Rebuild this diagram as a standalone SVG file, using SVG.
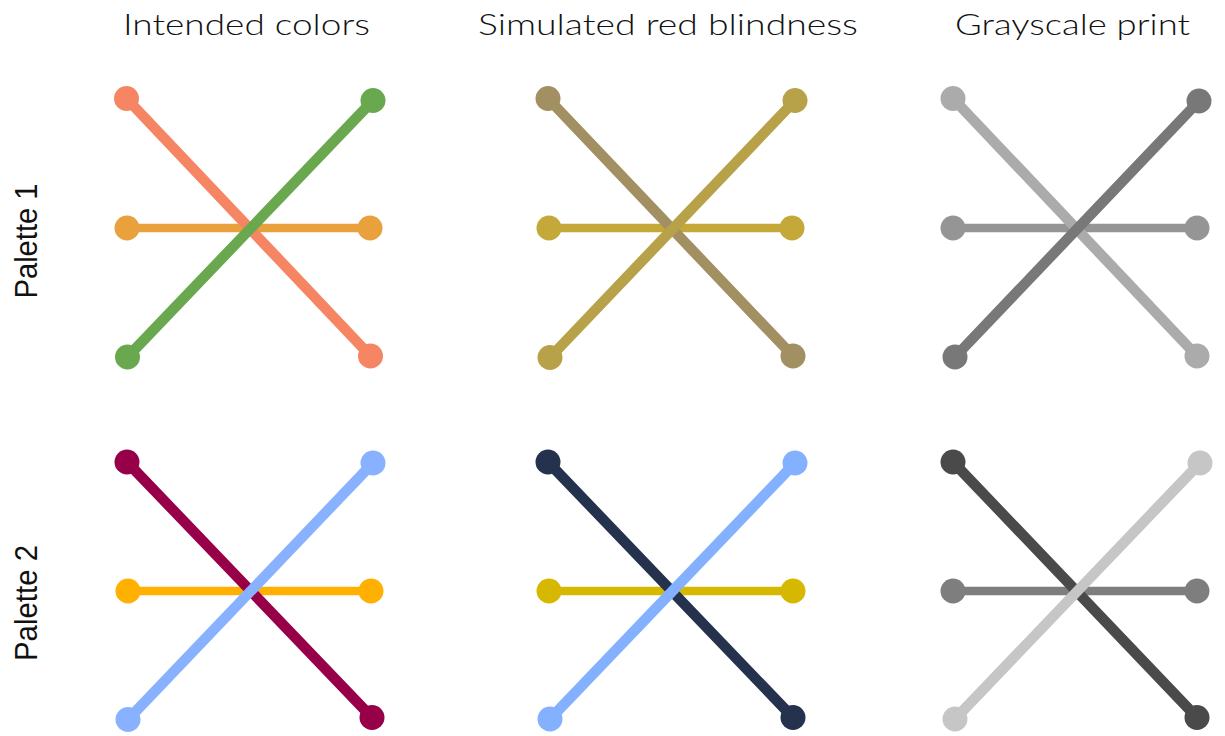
<svg xmlns="http://www.w3.org/2000/svg" width="1225" height="736" viewBox="0 0 1225 736">
<style>
.t{font-family:Lato,"Open Sans","Liberation Sans",sans-serif;font-size:30px;font-weight:300;fill:#111;text-anchor:middle}
.r{font-family:"Liberation Sans",Arial,sans-serif;font-size:32px;fill:#111;text-anchor:middle}
.d{stroke-width:10.5;stroke-linecap:round;fill:none}
.h{stroke-width:8.5;stroke-linecap:round;fill:none}
</style>
<rect width="1225" height="736" fill="#fff"/>
<g id="titles">
<text class="t" x="246.5" y="35" textLength="247" lengthAdjust="spacingAndGlyphs">Intended colors</text>
<text class="t" x="668" y="35" textLength="380" lengthAdjust="spacingAndGlyphs">Simulated red blindness</text>
<text class="t" x="1072.5" y="35" textLength="235" lengthAdjust="spacingAndGlyphs">Grayscale print</text>
<text class="r" transform="translate(37,241) rotate(-90)" textLength="115" lengthAdjust="spacingAndGlyphs">Palette 1</text>
<text class="r" transform="translate(37,603) rotate(-90)" textLength="116" lengthAdjust="spacingAndGlyphs">Palette 2</text>
</g>
<g id="connectors">
<g id="r1p1">
<line class="h" x1="127" y1="228" x2="370" y2="228" stroke="#E8A13C"/>
<circle cx="127" cy="228" r="12.5" fill="#E8A13C"/><circle cx="370" cy="228" r="12.5" fill="#E8A13C"/>
<line class="d" x1="126.5" y1="98.5" x2="370.5" y2="356" stroke="#F68563"/>
<circle cx="126.5" cy="98.5" r="12.5" fill="#F68563"/><circle cx="370.5" cy="356" r="12.5" fill="#F68563"/>
<line class="d" x1="127.5" y1="357" x2="373" y2="100.5" stroke="#6AA84F"/>
<circle cx="127.5" cy="357" r="12.5" fill="#6AA84F"/><circle cx="373" cy="100.5" r="12.5" fill="#6AA84F"/>
</g>
<g id="r1p2">
<line class="h" x1="549" y1="228" x2="792" y2="228" stroke="#C4A83A"/>
<circle cx="549" cy="228" r="12.5" fill="#C4A83A"/><circle cx="792" cy="228" r="12.5" fill="#C4A83A"/>
<line class="d" x1="548" y1="98.5" x2="793" y2="356" stroke="#A39062"/>
<circle cx="548" cy="98.5" r="12.5" fill="#A39062"/><circle cx="793" cy="356" r="12.5" fill="#A39062"/>
<line class="d" x1="550" y1="357.5" x2="795" y2="100.5" stroke="#B8A249"/>
<circle cx="550" cy="357.5" r="12.5" fill="#B8A249"/><circle cx="795" cy="100.5" r="12.5" fill="#B8A249"/>
</g>
<g id="r1p3">
<line class="h" x1="953" y1="228" x2="1197" y2="228" stroke="#959595"/>
<circle cx="953" cy="228" r="12.5" fill="#959595"/><circle cx="1197" cy="228" r="12.5" fill="#959595"/>
<line class="d" x1="953" y1="98.5" x2="1197" y2="356" stroke="#ABABAB"/>
<circle cx="953" cy="98.5" r="12.5" fill="#ABABAB"/><circle cx="1197" cy="356" r="12.5" fill="#ABABAB"/>
<line class="d" x1="955" y1="357" x2="1199" y2="101" stroke="#787878"/>
<circle cx="955" cy="357" r="12.5" fill="#787878"/><circle cx="1199" cy="101" r="12.5" fill="#787878"/>
</g>
<g id="r2p1">
<line class="h" x1="128" y1="591" x2="371" y2="591" stroke="#FFB000"/>
<circle cx="128" cy="591" r="12.5" fill="#FFB000"/><circle cx="371" cy="591" r="12.5" fill="#FFB000"/>
<line class="d" x1="127" y1="462" x2="372" y2="717.5" stroke="#970048"/>
<circle cx="127" cy="462" r="12.5" fill="#970048"/><circle cx="372" cy="717.5" r="12.5" fill="#970048"/>
<line class="d" x1="128" y1="719.5" x2="373" y2="463" stroke="#88B2FF"/>
<circle cx="128" cy="719.5" r="12.5" fill="#88B2FF"/><circle cx="373" cy="463" r="12.5" fill="#88B2FF"/>
</g>
<g id="r2p2">
<line class="h" x1="549" y1="591" x2="793" y2="591" stroke="#D6B800"/>
<circle cx="549" cy="591" r="12.5" fill="#D6B800"/><circle cx="793" cy="591" r="12.5" fill="#D6B800"/>
<line class="d" x1="548" y1="462" x2="793" y2="717.5" stroke="#25324E"/>
<circle cx="548" cy="462" r="12.5" fill="#25324E"/><circle cx="793" cy="717.5" r="12.5" fill="#25324E"/>
<line class="d" x1="550" y1="719" x2="795" y2="463" stroke="#83B1FF"/>
<circle cx="550" cy="719" r="12.5" fill="#83B1FF"/><circle cx="795" cy="463" r="12.5" fill="#83B1FF"/>
</g>
<g id="r2p3">
<line class="h" x1="953" y1="591" x2="1197" y2="591" stroke="#7E7E7E"/>
<circle cx="953" cy="591" r="12.5" fill="#7E7E7E"/><circle cx="1197" cy="591" r="12.5" fill="#7E7E7E"/>
<line class="d" x1="953" y1="462" x2="1197" y2="717.5" stroke="#4A4A4A"/>
<circle cx="953" cy="462" r="12.5" fill="#4A4A4A"/><circle cx="1197" cy="717.5" r="12.5" fill="#4A4A4A"/>
<line class="d" x1="955" y1="719" x2="1200" y2="463" stroke="#C6C6C6"/>
<circle cx="955" cy="719" r="12.5" fill="#C6C6C6"/><circle cx="1200" cy="463" r="12.5" fill="#C6C6C6"/>
</g>
</g>
</svg>
